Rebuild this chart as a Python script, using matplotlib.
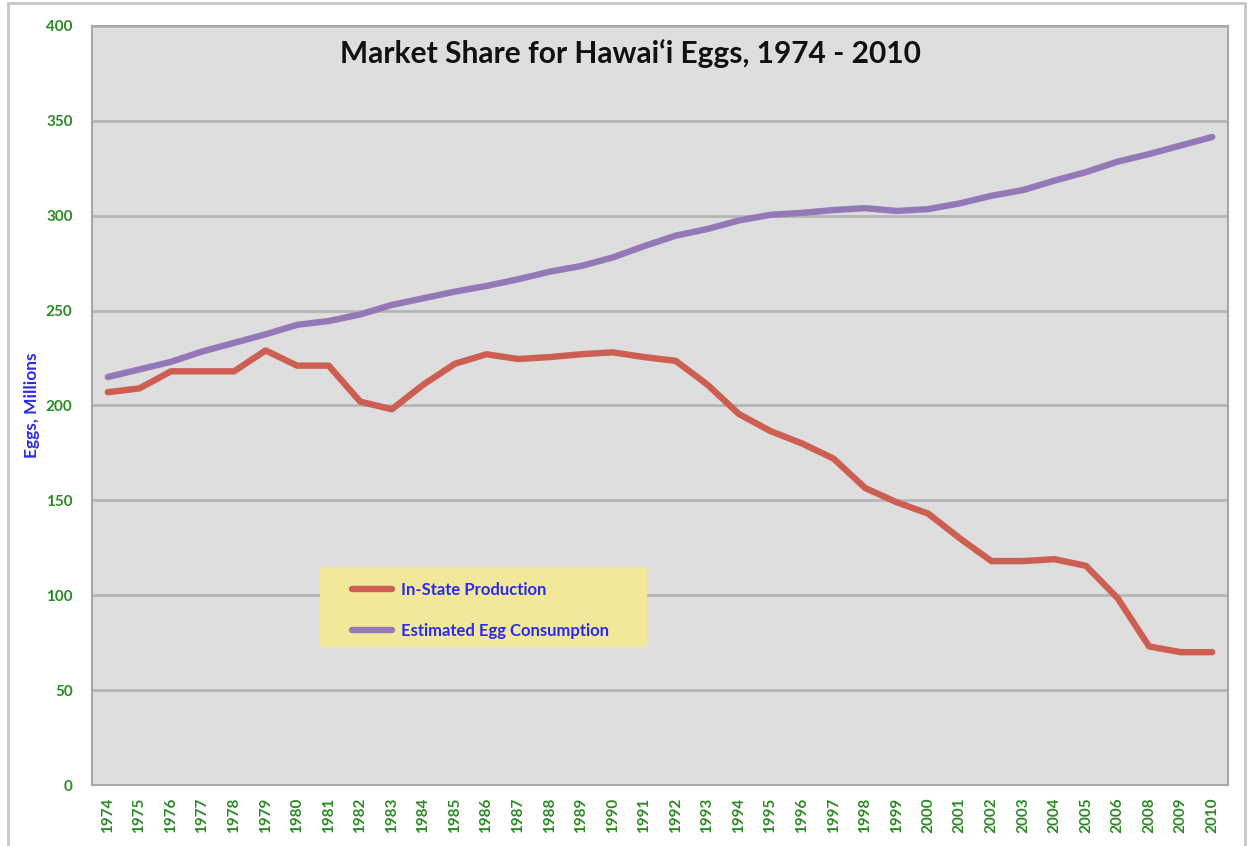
import matplotlib
matplotlib.use('Agg')
import matplotlib.pyplot as plt
from matplotlib.patches import Rectangle

# Data (eggs, millions). Note: no 2007 in source
years = ['1974', '1975', '1976', '1977', '1978', '1979', '1980', '1981', '1982',
         '1983', '1984', '1985', '1986', '1987', '1988', '1989', '1990', '1991',
         '1992', '1993', '1994', '1995', '1996', '1997', '1998', '1999', '2000',
         '2001', '2002', '2003', '2004', '2005', '2006', '2008', '2009', '2010']
in_state = [207, 209, 218, 218, 218, 229, 221, 221, 202, 198, 211, 222, 227,
            224.5, 225.5, 227, 228, 225.5, 223.5, 211, 195.5, 186.5, 180, 172,
            156.5, 149, 143, 130, 118, 118, 119, 115.5, 98.5, 73, 70, 70]
consumption = [215, 219, 223, 228.5, 233, 237.5, 242.5, 244.5, 248, 253, 256.5,
               260, 263, 266.5, 270.5, 273.5, 278, 284, 289.5, 293, 297.5, 300.5,
               301.5, 303, 304, 302.5, 303.5, 306.5, 310.5, 313.5, 318.5, 323,
               328.5, 332.5, 337, 341.5]
y_ticks = [0, 50, 100, 150, 200, 250, 300, 350, 400]

green = '#2a8a22'
blue = '#2b2bf0'

plt.rcParams['font.family'] = ['Lato', 'DejaVu Sans']

fig = plt.figure(figsize=(12.49, 8.46), dpi=100)
fig.patches.append(Rectangle((0.0065, -0.01), 0.99, 1.006, transform=fig.transFigure,
                             fill=False, edgecolor='#c8c8c8', linewidth=2))
ax = fig.add_axes([0.0737, 0.0721, 0.9095, 0.8972])
ax.set_facecolor('#dedede')

x = range(len(years))
ax.plot(x, in_state, color='#cd5f52', linewidth=4.6, solid_capstyle='round',
        solid_joinstyle='round', label='In-State Production', zorder=3)
ax.plot(x, consumption, color='#9479b8', linewidth=4.6, solid_capstyle='round',
        solid_joinstyle='round', label='Estimated Egg Consumption', zorder=3)

ax.set_xlim(-0.5, len(years) - 0.5)
ax.set_ylim(0, 400)
ax.set_yticks(y_ticks)
ax.set_xticks(list(x))
ax.set_xticklabels(years, rotation=90)
ax.tick_params(axis='both', length=0, colors=green, labelsize=11)
ax.tick_params(axis='y', pad=14)
ax.tick_params(axis='x', pad=9)
for lbl in ax.get_xticklabels() + ax.get_yticklabels():
    lbl.set_fontweight('bold')

ax.grid(axis='y', color='#b5b5b5', linewidth=2)
ax.set_axisbelow(True)
for s in ax.spines.values():
    s.set_color('#a8a8a8')
    s.set_linewidth(1.5)

ax.set_ylabel('Eggs, Millions', color=blue, fontsize=12.5, fontweight='bold', labelpad=4)
ax.text(0.474, 0.983, 'Market Share for Hawai\u2018i Eggs, 1974 - 2010',
        transform=ax.transAxes, ha='center', va='top', fontsize=21.5,
        fontweight='bold', color='#111111')

# yellow legend box, legend entries drawn on top without their own frame
ax.add_patch(Rectangle((0.2007, 0.1818), 0.288, 0.1054, transform=ax.transAxes,
                       facecolor='#f2e89a', edgecolor='none', zorder=4))
leg = ax.legend(loc='upper left', bbox_to_anchor=(0.2289, 0.2674),
                fontsize=12, handlelength=2.4, handletextpad=0.55,
                labelspacing=1.48, borderpad=0, borderaxespad=0, frameon=False)
leg.set_zorder(5)
for t in leg.get_texts():
    t.set_color(blue)
    t.set_fontweight('bold')

fig.savefig('out.png', dpi=100)
